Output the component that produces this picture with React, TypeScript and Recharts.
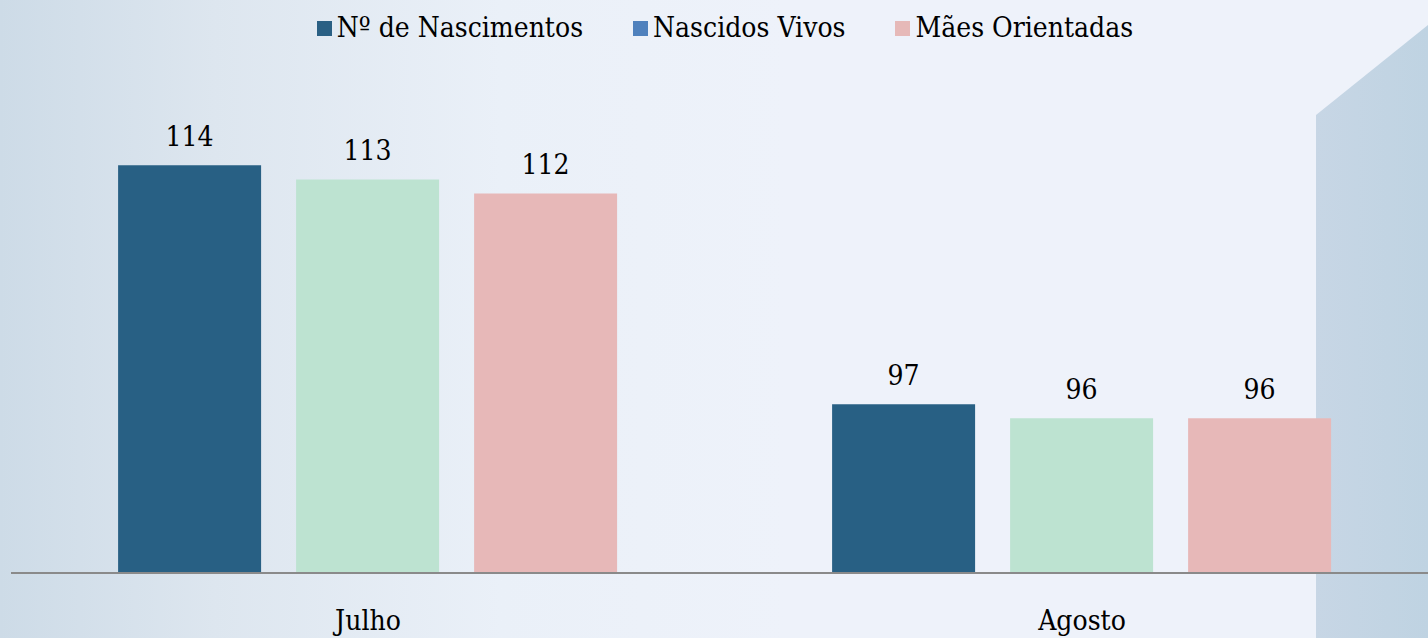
import { BarChart, Bar, XAxis, YAxis, LabelList } from "recharts";

const months = ["Julho", "Agosto"];
const nascimentos = [114, 97];
const nascidosVivos = [113, 96];
const maesOrientadas = [112, 96];

const legendItems = [
  { name: "Nº de Nascimentos", color: "#2a6084" },
  { name: "Nascidos Vivos", color: "#4f81bd" },
  { name: "Mães Orientadas", color: "#e6b9b8" },
];

const data = months.map((month, i) => ({
  month,
  nascimentos: nascimentos[i],
  nascidosVivos: nascidosVivos[i],
  maesOrientadas: maesOrientadas[i],
}));

const font = "'DejaVu Serif Condensed', 'DejaVu Serif', serif";

export default function App() {
  const labelStyle = { fontSize: 28, fill: "#000", fontFamily: font, fontStretch: "condensed" };

  return (
    <div
      style={{
        position: "fixed",
        left: 0,
        top: 0,
        width: 1428,
        height: 638,
        overflow: "hidden",
        fontFamily: font,
        fontStretch: "condensed",
        background:
          "linear-gradient(to right, #cddbe7 0%, #dde6ef 15%, #eaf0f8 35%, #eef2fa 55%, #eef2fa 100%)",
      }}
    >
      {/* right side decoration panel */}
      <div
        style={{
          position: "absolute",
          left: 1316,
          top: 0,
          width: 112,
          height: 638,
          background: "linear-gradient(to right, #c7d6e5, #bfd3e2)",
          clipPath: "polygon(0 115px, 100% 25px, 100% 100%, 0 100%)",
        }}
      />
      <div
        style={{
          position: "absolute",
          top: 12,
          left: 0,
          width: 1450,
          display: "flex",
          justifyContent: "center",
          gap: 50,
          fontSize: 28,
          color: "#000",
        }}
      >
        {legendItems.map((item) => (
          <div key={item.name} style={{ display: "flex", alignItems: "center", gap: 5 }}>
            <span style={{ width: 15, height: 15, background: item.color, display: "inline-block" }} />
            <span style={{ lineHeight: "32px" }}>{item.name}</span>
          </div>
        ))}
      </div>
      <div style={{ position: "absolute", left: 0, top: 0 }}>
        <BarChart
          width={1450}
          height={638}
          data={data}
          margin={{ top: 81, right: 11, bottom: 0, left: 11 }}
          barCategoryGap="15%"
          barGap={35}
        >
          <XAxis
            dataKey="month"
            height={65}
            axisLine={{ stroke: "#8a8a8a", strokeWidth: 2 }}
            tickLine={false}
            tickMargin={31}
            tick={{ fontSize: 28, fill: "#000", fontFamily: font, fontStretch: "condensed" }}
          />
          <YAxis hide domain={[85, 120]} allowDataOverflow />
          <Bar dataKey="nascimentos" fill="#286084" isAnimationActive={false}>
            <LabelList dataKey="nascimentos" position="top" offset={19} style={labelStyle} />
          </Bar>
          <Bar dataKey="nascidosVivos" fill="#bde3d1" isAnimationActive={false}>
            <LabelList dataKey="nascidosVivos" position="top" offset={19} style={labelStyle} />
          </Bar>
          <Bar dataKey="maesOrientadas" fill="#e7b8b8" isAnimationActive={false}>
            <LabelList dataKey="maesOrientadas" position="top" offset={19} style={labelStyle} />
          </Bar>
        </BarChart>
      </div>
    </div>
  );
}
